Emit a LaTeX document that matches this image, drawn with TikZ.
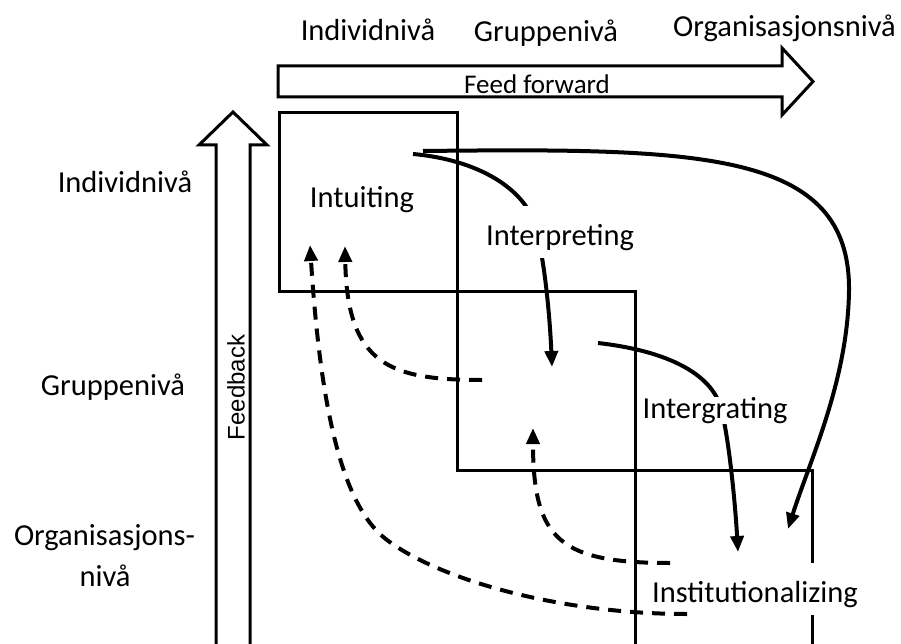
\documentclass[tikz,border=0pt]{standalone}
\usepackage{fontspec}
\setmainfont{Carlito}
\newfontfamily\arialfont{Liberation Sans}
\usetikzlibrary{arrows.meta}

\begin{document}
\begin{tikzpicture}[x=1pt,y=-1pt,
  txt/.style={font=\fontsize{30.5}{36}\selectfont, anchor=base, inner sep=0pt},
  tallbg/.style={txt, fill=white, inner sep=2pt, text height=37pt, text depth=11pt},
  thinbg/.style={txt, fill=white, inner sep=1pt, text height=20pt, text depth=5pt},
  frame/.style={line width=3pt, line join=miter},
  bigarrow/.style={line width=3pt, line join=miter, fill=white},
  flow/.style={line width=4pt, -{Triangle[length=16pt,width=13pt]}},
  back/.style={flow, dash pattern=on 13pt off 9pt}]
\useasboundingbox (0,0) rectangle (901,644);
\clip (0,0) rectangle (901,644);

% level headings along the top
\node[txt] (topind) at (368,41) {Individnivå};
\node[txt] (topgrp) at (546,42) {Gruppenivå};
\node[txt] (toporg) at (784.5,37) {Organisasjonsnivå};

% level headings down the left side
\node[txt] (leftind) at (125,193) {Individnivå};
\node[txt] (leftgrp) at (113,395) {Gruppenivå};
\node[txt] (leftorg) at (104.5,545) {Organisasjons-};
\node[txt] (leftorgb) at (105,586) {nivå};

% feed forward block arrow
\draw[bigarrow] (278,66) -- (782,66) -- (782,48) -- (813,81.5) -- (782,115)
  -- (782,97) -- (278,97) -- cycle;
\node[txt, font=\fontsize{27}{32}\selectfont] (ff) at (537,93.5) {Feed forward};

% feedback block arrow
\draw[bigarrow] (216,660) -- (216,145) -- (199,145) -- (233,112) -- (267,145)
  -- (250,145) -- (250,660);
\node[font=\arialfont\fontsize{24}{28}\selectfont, rotate=90, inner sep=0pt]
  (fb) at (236,387.5) {Feedback};

% the three staggered level boxes
\draw[frame] (279,113) rectangle (457,291);
\draw[frame] (457,291) -- (635,291) -- (635,660);
\draw[frame] (457,291) -- (457,470) -- (812,470) -- (812,660);

% anchor points of the process arrows
\coordinate (a1s) at (413,154);
\coordinate (a1m) at (535,225);
\coordinate (a1e) at (552,367);
\coordinate (a2s) at (423,151);
\coordinate (a2m) at (849,290);
\coordinate (a2e) at (788,529);
\coordinate (a3s) at (598,343);
\coordinate (a3m) at (720,405);
\coordinate (a3e) at (738,552);
\coordinate (b1s) at (482,380);
\coordinate (b1e) at (345,246);
\coordinate (b2s) at (687,614);
\coordinate (b2m) at (387,540);
\coordinate (b2e) at (310,245);
\coordinate (b3s) at (670,563);
\coordinate (b3e) at (533,428);

% feed forward flows
\draw[flow] (a1s) .. controls (480,160) and (525,190) .. (a1m)
  .. controls (545,260) and (550,320) .. (a1e);
\draw[flow] (a2s) .. controls (700,148) and (850,150) .. (a2m)
  .. controls (848,380) and (810,460) .. (a2e);
\draw[flow] (a3s) .. controls (660,350) and (708,370) .. (a3m)
  .. controls (728,430) and (735,500) .. (a3e);

% process labels
\node[txt] (intu) at (362,208) {Intuiting};
\node[tallbg] (interp) at (560,245) {Interpreting};
\node[thinbg] (integ) at (715,418) {Intergrating};
\node[tallbg] (inst) at (755,602) {Institutionalizing};

% feedback flows
\draw[back] (b1s) .. controls (390,380) and (347,365) .. (b1e);
\draw[back] (b2s) .. controls (560,614) and (440,580) .. (b2m)
  .. controls (340,505) and (320,400) .. (b2e);
\draw[back] (b3s) .. controls (560,563) and (533,540) .. (b3e);
\end{tikzpicture}
\end{document}
